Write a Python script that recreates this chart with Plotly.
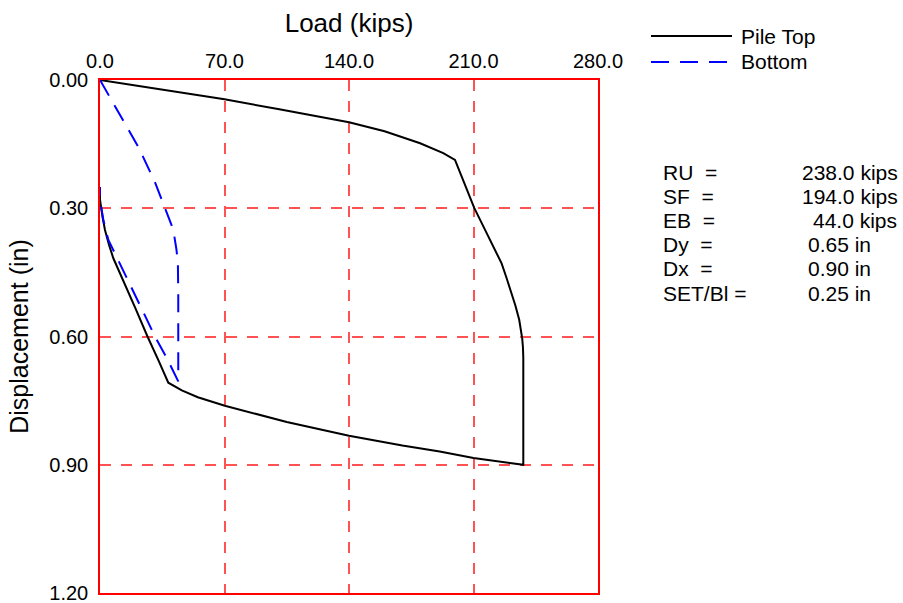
import plotly.graph_objects as go

# Pile top load-displacement loop (kips, in)
top_load = [0, 35, 70, 100.8, 120, 140, 160, 180, 193, 199.6, 205, 210.4, 218.1, 225.8,
            228.5, 230.8, 233.5, 235.7, 236.7, 237.4, 237.8, 238, 238,
            224, 210, 191, 170, 140, 105, 70.2, 55, 46, 40.2,
            38.4, 33, 26.7, 20, 14, 7.5, 5, 2.8, 1.4, 0.5, 0, 0]
top_disp = [0, 0.022, 0.045, 0.0686, 0.083, 0.099, 0.12, 0.148, 0.171, 0.187, 0.243, 0.299, 0.364, 0.429,
            0.462, 0.491, 0.527, 0.561, 0.583, 0.605, 0.625, 0.65, 0.90,
            0.892, 0.884, 0.869, 0.855, 0.832, 0.80, 0.762, 0.742, 0.726, 0.713,
            0.708, 0.657, 0.60, 0.535, 0.478, 0.417, 0.385, 0.351, 0.32, 0.295, 0.28, 0.25]

# Pile bottom load-displacement loop
bot_load = [0, 11, 22, 31, 36, 41.2, 43, 43.8, 44, 44,
            37.5, 30.9, 24, 17, 11, 4.7, 2, 0.6, 0, 0]
bot_disp = [0, 0.08, 0.16, 0.24, 0.296, 0.35, 0.397, 0.43, 0.5, 0.705,
            0.65, 0.60, 0.54, 0.48, 0.43, 0.374, 0.33, 0.30, 0.28, 0.25]

series_names = ["Pile Top", "Bottom"]
series_colors = ["black", "#0000ff"]
series_dash = ["solid", "18px,11px"]

x_ticks = [0, 70, 140, 210, 280]
y_ticks = [0.0, 0.3, 0.6, 0.9, 1.2]

stat_names = ["RU  =", "SF  =", "EB  =", "Dy  =", "Dx  =", "SET/Bl ="]
stat_values = ["238.0 kips", "194.0 kips", "44.0 kips", "0.65 in", "0.90 in", "0.25 in"]

FONT = "Arial, Liberation Sans, sans-serif"
W, H = 903, 603
L, R, T, B = 100, 305, 80, 10
pw, ph = W - L - R, H - T - B


def px_x(p):
    return (p - L) / pw


def px_y(p):
    return 1 - (p - T) / ph


fig = go.Figure()
for xs, ys, name, col, dash in zip([top_load, bot_load], [top_disp, bot_disp],
                                   series_names, series_colors, series_dash):
    fig.add_trace(go.Scatter(x=xs, y=ys, mode="lines", name=name, showlegend=False,
                             line=dict(color=col, width=2, dash=dash)))

grid = dict(showgrid=True, gridcolor="rgba(255,40,40,0.8)", gridwidth=1.5,
            griddash="11px,10px", zeroline=False, showline=True, linecolor="red",
            linewidth=1.5, mirror=True, ticks="", automargin=False,
            ticklabeloverflow="allow",
            tickfont=dict(size=20, color="black", family=FONT))

fig.update_xaxes(range=[0, 280], side="top", tickvals=x_ticks,
                 ticktext=[f"{v:.1f}" for v in x_ticks], ticklabelstandoff=2,
                 title=dict(text="Load (kips)", font=dict(size=26, family=FONT, color="black"), standoff=10),
                 **grid)
fig.update_yaxes(range=[1.2, 0], tickvals=y_ticks,
                 ticktext=[f"{v:.2f}" for v in y_ticks], ticklabelstandoff=6,
                 title=dict(text="Displacement (in)", font=dict(size=25, family=FONT, color="black"), standoff=14),
                 **grid)

# Legend drawn as line samples with labels
legend_rows = [36, 62]
for name, col, dash, yy in zip(series_names, series_colors, series_dash, legend_rows):
    fig.add_shape(type="line", xref="paper", yref="paper",
                  x0=px_x(651), x1=px_x(732), y0=px_y(yy), y1=px_y(yy),
                  line=dict(color=col, width=2, dash=dash))
    fig.add_annotation(x=px_x(739), y=px_y(yy), xref="paper", yref="paper", text=name,
                       showarrow=False, xanchor="left", yanchor="middle",
                       font=dict(size=21, family=FONT, color="black"))

rows_y = [172, 196, 220, 244, 268, 293]
value_x = [800, 800, 810.7, 805.7, 805.7, 805.7]
for name, val, yy, vx in zip(stat_names, stat_values, rows_y, value_x):
    fig.add_annotation(x=px_x(661), y=px_y(yy), xref="paper", yref="paper", text=name,
                       showarrow=False, xanchor="left", yanchor="middle",
                       font=dict(size=21, family=FONT, color="black"))
    fig.add_annotation(x=px_x(vx), y=px_y(yy), xref="paper", yref="paper", text=val,
                       showarrow=False, xanchor="left", yanchor="middle",
                       font=dict(size=21, family=FONT, color="black"))

fig.update_layout(
    width=W, height=H,
    margin=dict(l=L, r=R, t=T, b=B),
    paper_bgcolor="white", plot_bgcolor="white",
    font=dict(family=FONT, size=20, color="black"),
    showlegend=False,
)

fig.write_html("out.html")
